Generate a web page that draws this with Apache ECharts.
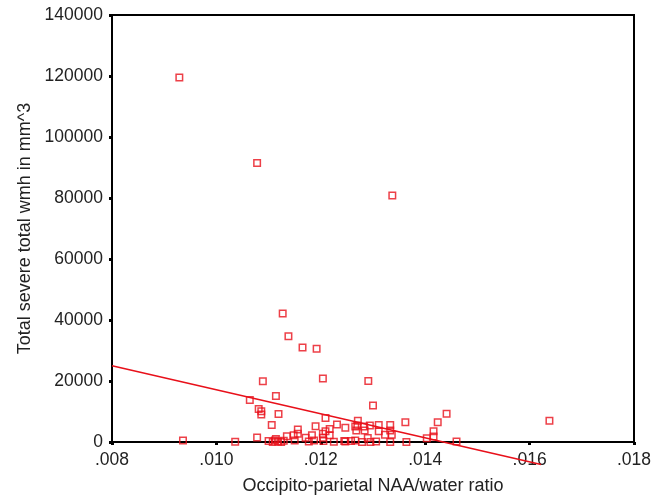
<!DOCTYPE html>
<html>
<head>
<meta charset="utf-8">
<script src="https://cdn.jsdelivr.net/npm/echarts@6/dist/echarts.min.js"></script>
<style>
  html, body { margin: 0; padding: 0; background: #fff; }
  #chart { width: 664px; height: 500px; }
</style>
</head>
<body>
<div id="chart"></div>
<script>
// NAA/water ratio (x) and severe wmh volume (y)
var naaRatio = [
  0.00929, 0.01078, 0.01337, 0.01127, 0.01138, 0.01165, 0.01192, 0.01089, 0.01204, 0.01291,
  0.01114, 0.01064, 0.01300, 0.01441, 0.01081, 0.01086, 0.01086, 0.01119, 0.01106, 0.01209,
  0.01190, 0.01231, 0.01247, 0.01266, 0.01268, 0.01271, 0.01270, 0.01283, 0.01284, 0.01294,
  0.01311, 0.01311, 0.01333, 0.01333, 0.01336, 0.01323, 0.01362, 0.01424, 0.01416, 0.01416,
  0.01403, 0.01460, 0.01638, 0.01290, 0.01306, 0.01266, 0.01279, 0.01333, 0.01364, 0.00936,
  0.01036, 0.01078, 0.01100, 0.01108, 0.01112, 0.01118, 0.01124, 0.01129, 0.01114, 0.01135,
  0.01148, 0.01156, 0.01156, 0.01150, 0.01171, 0.01183, 0.01187, 0.01204, 0.01204, 0.01209,
  0.01217, 0.01217, 0.01205, 0.01225, 0.01245, 0.01258, 0.01295, 0.01177, 0.01247
];
var wmhVolume = [
  119500, 91500, 80800, 42100, 34700, 31000, 30600, 19900, 20800, 20000,
  15100, 13800, 12000, 9300, 10800, 10100, 9000, 9200, 5600, 7900,
  5200, 5700, 4700, 5100, 3800, 7000, 5400, 5100, 3800, 5400,
  5600, 3500, 5600, 3800, 2400, 2400, 6500, 6500, 3500, 1800,
  1200, 200, 7000, 1300, 200, 500, 0, 0, 0, 500,
  100, 1500, 300, 0, 500, 200, 0, 400, 1000, 1900,
  2200, 4100, 2700, 500, 1400, 2200, 500, 2700, 1400, 3500,
  4300, 2200, 300, 100, 300, 300, 0, 200, 200
];
// fit line end points
var fitX = [0.008, 0.01622];
var fitY = [25000, -7400];

var xTicks = { min: 0.008, max: 0.018, step: 0.002 };
var yTicks = { min: 0, max: 140000, step: 20000 };

var points = naaRatio.map(function (x, i) { return [x, wmhVolume[i]]; });
var fitLine = fitX.map(function (x, i) { return [x, fitY[i]]; });

var chart = echarts.init(document.getElementById('chart'));
var font = 'Liberation Sans, Arial, Helvetica, sans-serif';
var axisLine = { show: true, lineStyle: { color: '#000', width: 2 } };
var tick = { show: true, length: 3, lineStyle: { color: '#000', width: 3 } };

chart.setOption({
  animation: false,
  backgroundColor: '#fff',
  grid: { left: 112, right: 30, top: 15, bottom: 55, show: true, borderColor: '#000', borderWidth: 2 },
  xAxis: {
    type: 'value',
    min: xTicks.min, max: xTicks.max, interval: xTicks.step,
    name: 'Occipito-parietal NAA/water ratio',
    nameLocation: 'middle', nameGap: 35,
    nameTextStyle: { fontFamily: font, fontSize: 18, color: '#222' },
    axisLine: axisLine, axisTick: tick, splitLine: { show: false },
    axisLabel: {
      fontFamily: font, fontSize: 17.5, color: '#222', margin: 9,
      formatter: function (v) { return v.toFixed(3).replace(/^0/, ''); }
    }
  },
  yAxis: {
    type: 'value',
    min: yTicks.min, max: yTicks.max, interval: yTicks.step,
    name: 'Total severe total wmh in mm^3',
    nameLocation: 'middle', nameGap: 78,
    nameTextStyle: { fontFamily: font, fontSize: 18, color: '#222' },
    axisLine: axisLine, axisTick: tick, splitLine: { show: false },
    axisLabel: {
      fontFamily: font, fontSize: 17.5, color: '#222', margin: 9,
      formatter: function (v) { return String(v); }
    }
  },
  series: [
    {
      type: 'scatter',
      data: points,
      symbol: 'rect',
      symbolSize: 6.5,
      itemStyle: { color: 'rgba(0,0,0,0)', borderColor: '#e8101a', borderWidth: 1.5 }
    },
    {
      type: 'line',
      data: fitLine,
      clip: false,
      symbol: 'none',
      lineStyle: { color: '#e8101a', width: 1.5 }
    }
  ]
});
</script>
</body>
</html>
